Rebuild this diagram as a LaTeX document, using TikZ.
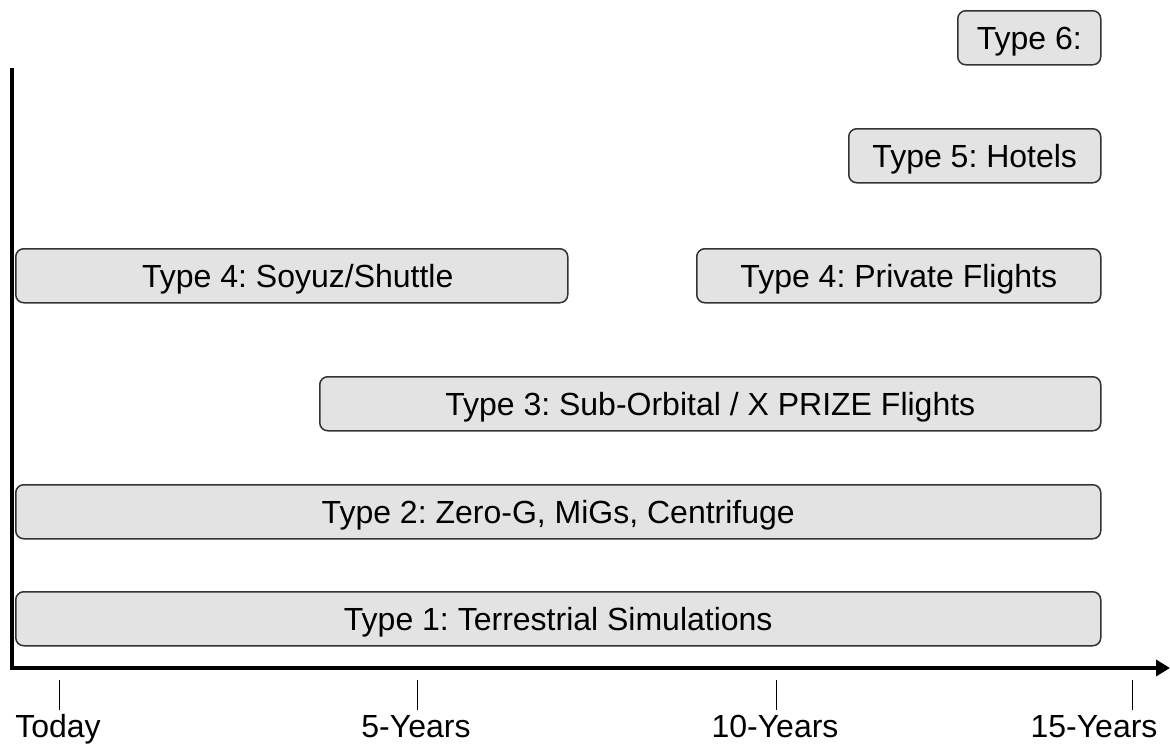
\documentclass[tikz,border=0pt]{standalone}
\usepackage{fontspec}
\setmainfont{Liberation Sans}
\usetikzlibrary{arrows.meta}
\frenchspacing
\begin{document}
\begin{tikzpicture}[x=1pt,y=-1pt,
  phase/.style={draw=black!80, line width=1.5pt, fill=black!11, rounded corners=8pt,
    minimum height=54pt, inner sep=0pt, anchor=north west,
    text height=23pt, text depth=0pt,
    font=\fontsize{32}{36}\selectfont},
  axis/.style={line width=4pt},
  tick/.style={line width=1pt},
  ticklabel/.style={font=\fontsize{32}{36}\selectfont, inner sep=0pt, anchor=base}]
\useasboundingbox (0,0) rectangle (1170,744);

% phases of the timeline
\node[phase, minimum width=143pt] (t6) at (957,10) {Type 6:};
\node[phase, minimum width=252pt] (t5) at (848,128) {Type 5: Hotels};
\node[phase, minimum width=552pt] (t4a) at (15,248) {\hspace*{12pt}Type 4: Soyuz/Shuttle};
\node[phase, minimum width=404pt] (t4b) at (696,248) {Type 4: Private Flights};
\node[phase, minimum width=781pt] (t3) at (319,376) {Type 3: Sub-Orbital / X PRIZE Flights};
\node[phase, minimum width=1085pt] (t2) at (15,484) {Type 2: Zero-G, MiGs, Centrifuge};
\node[phase, minimum width=1085pt] (t1) at (15,591) {Type 1: Terrestrial Simulations};

% axes
\coordinate (origin) at (12,668);
\coordinate (ytop) at (12,68);
\coordinate (xend) at (1170,668);
\draw[axis] (ytop) -- (origin);
\draw[axis, -{Triangle[length=14pt,width=16pt]}] ([xshift=-2pt]origin) -- (xend);

% ticks and labels
\foreach \name/\x/\lx/\lbl in {a/59/58/Today, b/417/416/5-Years, c/776/775/10-Years, d/1132/1094/15-Years}{
  \coordinate (tk\name top) at (\x,680);
  \coordinate (tk\name bot) at (\x,710);
  \draw[tick] (tk\name top) -- (tk\name bot);
  \node[ticklabel] (lb\name) at (\lx,737) {\lbl};
}
\end{tikzpicture}
\end{document}
